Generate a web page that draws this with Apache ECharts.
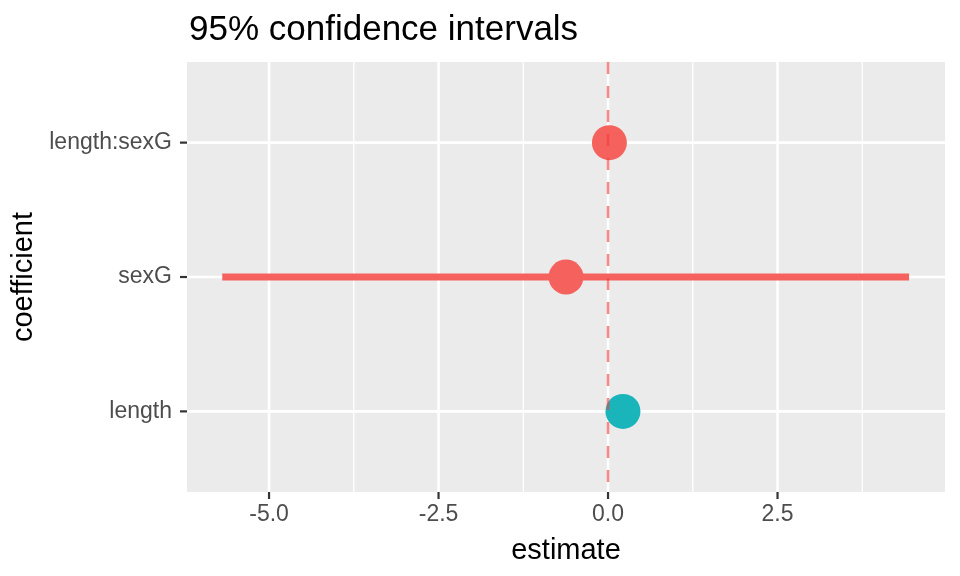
<!DOCTYPE html>
<html>
<head>
<meta charset="utf-8">
<script src="https://cdn.jsdelivr.net/npm/echarts@6/dist/echarts.min.js"></script>
<style>html,body{margin:0;padding:0;background:#fff}#c{width:960px;height:576px}</style>
</head>
<body>
<div id="c"></div>
<script>
// ---- data ----
const categories = ['length', 'sexG', 'length:sexG'];
const estimates = [0.22, -0.62, 0.02];
const lowerCI = [0.15, -5.69, -0.08];
const upperCI = [0.29, 4.44, 0.12];
const pointGroup = [1, 0, 0];            // 0 = red group, 1 = teal group
const xTickValues = [-5, -2.5, 0, 2.5];
const xTickLabels = ['-5.0', '-2.5', '0.0', '2.5'];
const xMinorValues = [-3.75, -1.25, 1.25, 3.75];
const refLineValue = [0];

const groupColors = ['#F5625D', '#1AB5BA'];
const FONT = '"Liberation Sans", Arial, Helvetica, sans-serif';

const chart = echarts.init(document.getElementById('c'), null, {renderer: 'canvas'});

const yPos = categories.map((c, i) => i + 1);

function vLine(color, width, dash) {
  return function (params, api) {
    const cs = params.coordSys;
    const x = api.coord([api.value(0), api.value(1)])[0];
    return {type: 'line', shape: {x1: x, y1: cs.y, x2: x, y2: cs.y + cs.height},
      style: {stroke: color, lineWidth: width, lineDash: dash || null, lineDashOffset: 0}};
  };
}
function hLine(color, width) {
  return function (params, api) {
    const cs = params.coordSys;
    const y = api.coord([api.value(0), api.value(1)])[1];
    return {type: 'line', shape: {x1: cs.x, y1: y, x2: cs.x + cs.width, y2: y},
      style: {stroke: color, lineWidth: width}};
  };
}
function xTick(params, api) {
  const cs = params.coordSys;
  const x = api.coord([api.value(0), api.value(1)])[0];
  const y0 = cs.y + cs.height;
  return {type: 'line', shape: {x1: x, y1: y0, x2: x, y2: y0 + 7},
    style: {stroke: '#333333', lineWidth: 2.2}};
}
function yTick(params, api) {
  const cs = params.coordSys;
  const y = api.coord([api.value(0), api.value(1)])[1];
  return {type: 'line', shape: {x1: cs.x - 7, y1: y, x2: cs.x, y2: y},
    style: {stroke: '#333333', lineWidth: 2.2}};
}

const option = {
  backgroundColor: '#FFFFFF',
  animation: false,
  title: {
    text: '95% confidence intervals',
    left: 184, top: 8,
    textStyle: {fontFamily: FONT, fontSize: 35, fontWeight: 'normal', color: '#000'}
  },
  grid: {left: 187, right: 15, top: 62, bottom: 84, show: true,
         backgroundColor: '#EBEBEB', borderWidth: 0, containLabel: false},
  xAxis: {
    type: 'value', min: -6.21, max: 4.97,
    name: 'estimate', nameLocation: 'middle', nameGap: 44,
    nameTextStyle: {fontFamily: FONT, fontSize: 29, color: '#000'},
    axisLine: {show: false},
    axisTick: {show: false},
    axisLabel: {show: true, customValues: xTickValues, margin: 11,
      formatter: v => xTickLabels[xTickValues.indexOf(v)] ?? String(v),
      fontFamily: FONT, fontSize: 23, color: '#4D4D4D'},
    splitLine: {show: false}
  },
  yAxis: {
    type: 'value', min: 0.4, max: 3.6,
    name: 'coefficient', nameLocation: 'middle', nameGap: 139, nameRotate: 90,
    nameTextStyle: {fontFamily: FONT, fontSize: 29, color: '#000'},
    axisLine: {show: false},
    axisTick: {show: false},
    axisLabel: {show: true, customValues: yPos, margin: 15,
      formatter: v => categories[Math.round(v) - 1] || '',
      fontFamily: FONT, fontSize: 23, color: '#4D4D4D'},
    splitLine: {show: false}
  },
  series: [
    {type: 'custom', name: 'minorX', z: 1, silent: true,
     data: xMinorValues.map(v => [v, 2]), renderItem: vLine('#FFFFFF', 1.3)},
    {type: 'custom', name: 'majorX', z: 1, silent: true,
     data: xTickValues.map(v => [v, 2]), renderItem: vLine('#FFFFFF', 2.6)},
    {type: 'custom', name: 'majorY', z: 1, silent: true,
     data: yPos.map(y => [0, y]), renderItem: hLine('#FFFFFF', 2.6)},
    {type: 'custom', name: 'xTicks', z: 1, silent: true, clip: false,
     data: xTickValues.map(v => [v, 2]), renderItem: xTick},
    {type: 'custom', name: 'yTicks', z: 1, silent: true, clip: false,
     data: yPos.map(y => [0, y]), renderItem: yTick},
    {type: 'custom', name: 'ci', z: 2, silent: true,
     data: categories.map((c, i) => [lowerCI[i], upperCI[i], yPos[i], pointGroup[i]]),
     encode: {x: [0, 1], y: 2},
     renderItem: function (params, api) {
       const y = api.value(2);
       const p1 = api.coord([api.value(0), y]);
       const p2 = api.coord([api.value(1), y]);
       return {type: 'line', shape: {x1: p1[0], y1: p1[1], x2: p2[0], y2: p2[1]},
         style: {stroke: groupColors[api.value(3)], lineWidth: 7, lineCap: 'butt'}};
     }},
    {type: 'scatter', name: 'estimate', z: 3, symbol: 'circle', symbolSize: 35,
     data: categories.map((c, i) => ({value: [estimates[i], yPos[i]],
       itemStyle: {color: groupColors[pointGroup[i]], opacity: 1}}))},
    {type: 'custom', name: 'ref', z: 4, silent: true,
     data: refLineValue.map(v => [v, 2]), renderItem: vLine('rgba(240,60,60,0.6)', 2.6, [12, 12])}
  ]
};
chart.setOption(option);
</script>
</body>
</html>
